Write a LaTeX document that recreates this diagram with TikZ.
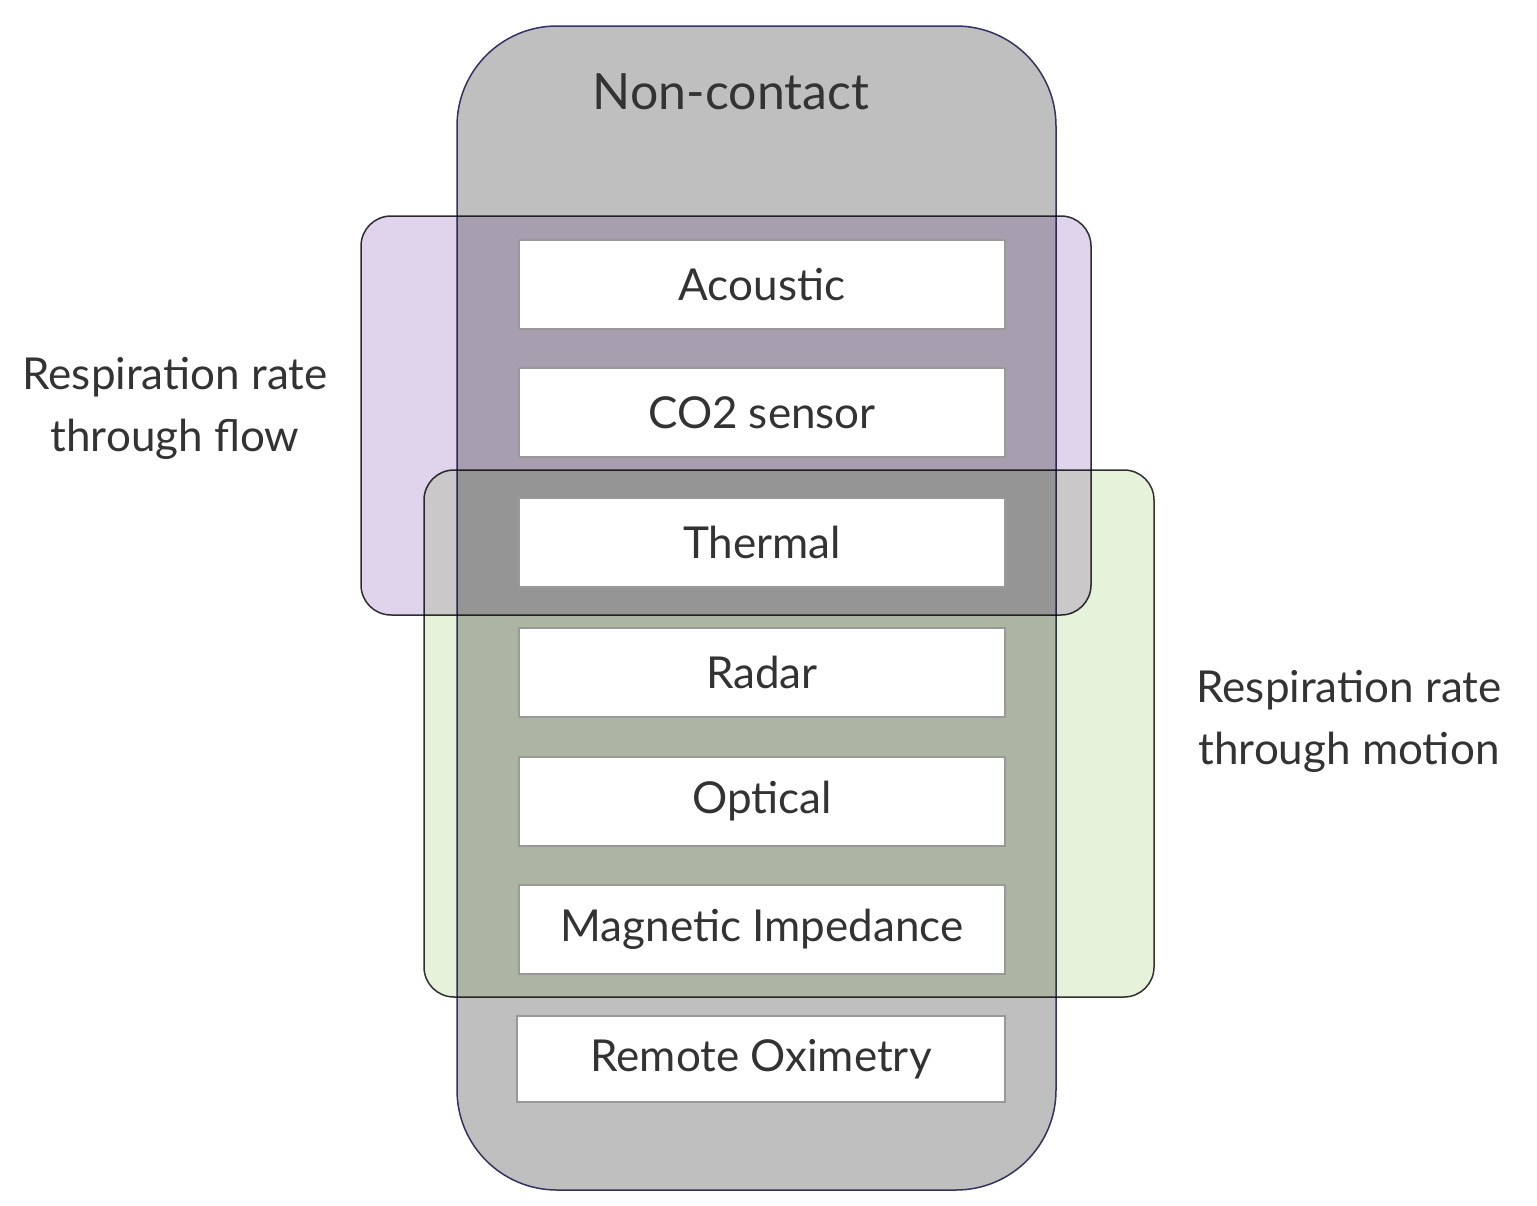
\documentclass[tikz,border=0pt]{standalone}
\usepackage{fontspec}
\setmainfont{Lato}
\begin{document}
\begin{tikzpicture}[x=1pt,y=-1pt,
  box/.style={draw=gray!80,line width=1.5pt,fill=white,minimum width=486pt,minimum height=89pt,inner sep=0pt,font=\fontsize{44}{50}\selectfont,text=black!80},
  lab/.style={align=center,font=\fontsize{44}{62}\selectfont,text=black!80}]
\useasboundingbox (0,0) rectangle (1537,1205);
\draw[fill=gray!50,draw=black!70!blue!60!gray,line width=1.5pt,rounded corners=100pt] (457,26) rectangle (1056,1190);
\begin{scope}[blend mode=multiply]
\draw[fill={rgb,255:red,224;green,211;blue,236},draw=black!80,line width=1.5pt,rounded corners=30pt] (361,216) rectangle (1091,615);
\draw[fill={rgb,255:red,230;green,242;blue,217},draw=black!80,line width=1.5pt,rounded corners=30pt] (424,470) rectangle (1154,997);
\end{scope}
\node[lab,font=\fontsize{50}{60}\selectfont] (nc) at (731,92) {Non-contact};
\node[box] (a) at (762,284.5) {Acoustic};
\node[box] (b) at (762,412.5) {CO2 sensor};
\node[box] (c) at (762,542.5) {Thermal};
\node[box] (d) at (762,672.5) {Radar};
\node[box] (e) at (762,801.5) {Optical};
\node[box] (f) at (762,929.5) {Magnetic Impedance};
\node[box,minimum width=488pt,minimum height=86pt] (g) at (761,1059) {Remote Oximetry};
\node[lab] (l1) at (175,408) {Respiration rate\\through flow};
\node[lab] (l2) at (1349,721) {Respiration rate\\through motion};
\end{tikzpicture}
\end{document}
